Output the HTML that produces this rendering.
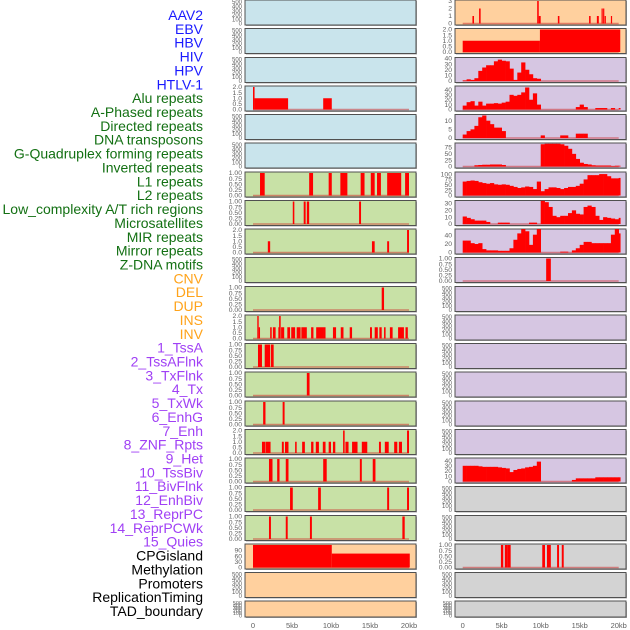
<!DOCTYPE html>
<html><head><meta charset="utf-8">
<style>
html,body{margin:0;padding:0;background:#fff;width:630px;height:630px;overflow:hidden}
svg{display:block;font-family:"Liberation Sans",sans-serif}
</style></head>
<body>
<svg id="chart" width="630" height="630" viewBox="0 0 630 630" xmlns="http://www.w3.org/2000/svg"></svg>
<script>
// ---- label data ----
const labelNames = ["AAV2","EBV","HBV","HIV","HPV","HTLV-1","Alu repeats","A-Phased repeats","Directed repeats","DNA transposons","G-Quadruplex forming repeats","Inverted repeats","L1 repeats","L2 repeats","Low_complexity A/T rich regions","Microsatellites","MIR repeats","Mirror repeats","Z-DNA motifs","CNV","DEL","DUP","INS","INV","1_TssA","2_TssAFlnk","3_TxFlnk","4_Tx","5_TxWk","6_EnhG","7_Enh","8_ZNF_Rpts","9_Het","10_TssBiv","11_BivFlnk","12_EnhBiv","13_ReprPC","14_ReprPCWk","15_Quies","CPGisland","Methylation","Promoters","ReplicationTiming","TAD_boundary"];
const labelGroups = [0,0,0,0,0,0,1,1,1,1,1,1,1,1,1,1,1,1,1,2,2,2,2,2,3,3,3,3,3,3,3,3,3,3,3,3,3,3,3,4,4,4,4,4];
const groupColors = ["#1a1aff","#137013","#ffa31a","#a040f5","#000000"];

// ---- x axis ----
const xTicks = [0,5,10,15,20];
const xTickLabels = ["0","5kb","10kb","15kb","20kb"];

// ---- y tick sets ----
const t01 = [0,0.25,0.5,0.75,1]; const t01L = ["0.00","0.25","0.50","0.75","1.00"];
const t02 = [0,0.5,1,1.5,2]; const t02L = ["0.0","0.5","1.0","1.5","2.0"];
const t500 = [0,100,200,300,400,500]; const t500L = ["0","100","200","300","400","500"];
const tR1 = [0,1,2,3];
const t40 = [0,10,20,30,40];
const tR5 = [0,5,10];
const tR6 = [0,25,50,75];
const tR7 = [0,25,50,75,100];
const tR8 = [0,10,20,30];
const tR9 = [0,20,40];
const tL20 = [0,30,60,90];

// ---- segment series [startKb, endKb, value] ----
const segL4 = [[0,0.2,2],[0.2,4.5,1],[9,10.1,1]];
const segL7 = [[0.9,1.5,1],[7.2,7.7,1],[9.7,10.1,1],[11.2,12.1,1],[13.8,14.3,1],[15.1,15.6,1],[15.9,16.4,1],[17.2,19,1],[19.5,20,1]];
const segL8 = [[5.1,5.3,1],[6.5,6.75,1],[6.9,7.2,1],[13.6,13.85,1]];
const segL9 = [[1.9,2.2,1],[15.25,15.6,1],[17.2,17.45,1],[19.75,20,2]];
const segL11 = [[16.5,16.8,1]];
const segL12 = [[0.55,0.73,2],[0.73,0.9,1],[2.2,2.4,1],[2.55,2.9,1],[3.25,3.35,1],[3.35,3.55,2],[3.6,4,1],[4.4,4.75,1],[4.9,5.4,1],[5.6,6.1,1],[6.2,6.9,1],[7.45,7.75,1],[8.1,9.1,1],[9.1,9.3,1],[10.25,10.65,1],[11.25,11.6,1],[12.4,12.7,1],[15,15.25,1],[15.6,16,1],[16.2,16.5,1],[16.8,17,1],[17.55,17.9,1],[18.6,19.35,1],[19.55,19.85,1]];
const segL13 = [[0.64,1.15,1],[1.5,2.2,1],[2.3,2.65,1]];
const segL14 = [[6.9,7.25,1]];
const segL15 = [[1.3,1.6,1],[3.8,4.05,1]];
const segL16 = [[1.15,1.55,1],[1.6,2.25,1],[3.7,3.95,1],[4.1,4.55,1],[5.4,5.6,1],[6.3,6.65,1],[7.45,7.75,1],[8.05,8.45,1],[8.95,9.3,1],[9.7,10,1],[10.25,10.55,1],[11.55,11.75,2],[11.85,12.25,1],[12.7,13.4,1],[13.95,14.65,1],[16.15,16.4,1],[16.9,17.4,1],[18.1,18.5,1],[18.7,19.1,1],[19.75,20,2]];
const segL17 = [[2.05,2.5,1],[3.1,3.4,1],[4.2,4.55,1],[9,9.45,1],[13.7,13.95,1],[15.35,15.7,1]];
const segL18 = [[4.75,5.1,1],[8.35,8.7,1],[17.2,17.45,1],[19.75,20,1]];
const segL19 = [[2.05,2.3,1],[4.2,4.45,1],[7.3,7.55,1],[19.15,19.45,1]];
const segL20 = [[0,10.1,118],[10.1,20.1,73]];
const segR1 = [[1.25,1.45,1],[2.1,2.3,2],[9.55,9.75,3],[9.75,10,1],[12.2,12.4,1],[16.2,16.4,1],[17.2,17.45,1],[17.8,17.95,2],[18,18.15,2],[18.2,18.35,1],[19,19.15,1]];
const segR2 = [[0,9.9,1],[9.9,20.2,2]];
const segR10 = [[10.7,11.3,1]];
const segR19 = [[4.9,5.2,1],[5.4,5.7,1],[5.7,6.15,1],[10.2,10.55,1],[10.8,11.3,1],[12.1,12.35,1],[12.7,12.95,1]];

// ---- binned series (0.5 kb bins from 0) ----
const binR3 = [1,3,2,5,18,24,28,28,35,38,36,35,22,2,15,33,20,12,5,4,0,0,0,0,0,0,0,0,0,0,0,0,0,0,0,0,0,0,0,0,0];
const binR4 = [8,15,17,8,16,8,12,12,13,12,14,16,30,28,30,35,45,20,33,10,0,0,0,0,0,0,0,0,0,5,10,5,0,0,3,3,3,0,3,0,3];
const binR5 = [2,4,5,7,12,13,10,8,6,6,4,0,0,0,0,0,0,0,0,0,1.5,0,0,0,0,1.5,1.5,0,0,2.5,2.5,2.5,0,0,0,0,0,0,0,0,0];
const binR6 = [0,0,0,5,6,7,7,8,8,8,6,0,0,0,0,0,0,0,0,0,88,90,90,90,90,88,82,70,50,30,15,10,8,5,4,4,4,4,2,3,3];
const binR7 = [65,68,70,68,62,58,55,58,52,50,52,50,45,40,35,38,42,40,30,65,20,30,38,38,35,30,35,40,40,45,55,75,95,95,95,100,100,90,80,80,82];
const binR8 = [11,9,7,5,5,5,3,0,0,2,2,2,0,0,0,0,0,2,2,0,34,32,25,12,10,12,12,16,20,15,14,25,27,25,12,6,10,9,8,7,9];
const binR9 = [28,28,22,20,22,8,5,5,5,4,4,4,10,30,45,55,50,18,42,55,0,0,0,0,0,2,2,0,5,10,18,25,25,22,22,22,22,22,42,55,45];
const binR16 = [30,30,30,30,29,28,28,28,28,27,26,25,18,22,24,25,27,28,30,38,0,0,0,0,0,0,0,0,3,6,6,6,6,6,8,8,8,8,8,8,8];

// ---- layout (not data) ----
const BLUE="#c9e4ec", GREEN="#c8e1a6", ORANGE="#ffd09e", PURPLE="#d6c6e2", GREY="#d3d3d3";
function P(col,row,bg,name,ymax,ticks,tickL,seg,bin){return {col,row,bg,name,ymax,ticks,tickL,seg,bin};}
const panels = [
 P(0,0,BLUE,"left-track-1",500,t500,t500L),
 P(0,1,BLUE,"left-track-2",500,t500,t500L),
 P(0,2,BLUE,"left-track-3",500,t500,t500L),
 P(0,3,BLUE,"left-track-4",2,t02,t02L,segL4),
 P(0,4,BLUE,"left-track-5",500,t500,t500L),
 P(0,5,BLUE,"left-track-6",500,t500,t500L),
 P(0,6,GREEN,"left-track-7",1,t01,t01L,segL7),
 P(0,7,GREEN,"left-track-8",1,t01,t01L,segL8),
 P(0,8,GREEN,"left-track-9",2,t02,t02L,segL9),
 P(0,9,GREEN,"left-track-10",500,t500,t500L),
 P(0,10,GREEN,"left-track-11",1,t01,t01L,segL11),
 P(0,11,GREEN,"left-track-12",2,t02,t02L,segL12),
 P(0,12,GREEN,"left-track-13",1,t01,t01L,segL13),
 P(0,13,GREEN,"left-track-14",1,t01,t01L,segL14),
 P(0,14,GREEN,"left-track-15",1,t01,t01L,segL15),
 P(0,15,GREEN,"left-track-16",2,t02,t02L,segL16),
 P(0,16,GREEN,"left-track-17",1,t01,t01L,segL17),
 P(0,17,GREEN,"left-track-18",1,t01,t01L,segL18),
 P(0,18,GREEN,"left-track-19",1,t01,t01L,segL19),
 P(0,19,ORANGE,"left-track-20",118,tL20,null,segL20),
 P(0,20,ORANGE,"left-track-21",500,t500,t500L),
 P(0,21,ORANGE,"left-track-22",500,t500,t500L),
 P(1,0,ORANGE,"right-track-1",3,tR1,null,segR1),
 P(1,1,ORANGE,"right-track-2",2,t02,t02L,segR2),
 P(1,2,PURPLE,"right-track-3",40,t40,null,null,binR3),
 P(1,3,PURPLE,"right-track-4",46,t40,null,null,binR4),
 P(1,4,PURPLE,"right-track-5",13,tR5,null,null,binR5),
 P(1,5,PURPLE,"right-track-6",89,tR6,null,null,binR6),
 P(1,6,PURPLE,"right-track-7",105,tR7,null,null,binR7),
 P(1,7,PURPLE,"right-track-8",33,tR8,null,null,binR8),
 P(1,8,PURPLE,"right-track-9",53,tR9,null,null,binR9),
 P(1,9,PURPLE,"right-track-10",1,t01,t01L,segR10),
 P(1,10,PURPLE,"right-track-11",500,t500,t500L),
 P(1,11,PURPLE,"right-track-12",500,t500,t500L),
 P(1,12,PURPLE,"right-track-13",500,t500,t500L),
 P(1,13,PURPLE,"right-track-14",500,t500,t500L),
 P(1,14,PURPLE,"right-track-15",500,t500,t500L),
 P(1,15,PURPLE,"right-track-16",500,t500,t500L),
 P(1,16,PURPLE,"right-track-17",43,t40,null,null,binR16),
 P(1,17,GREY,"right-track-18",500,t500,t500L),
 P(1,18,GREY,"right-track-19",500,t500,t500L),
 P(1,19,GREY,"right-track-20",1,t01,t01L,segR19),
 P(1,20,GREY,"right-track-21",500,t500,t500L),
 P(1,21,GREY,"right-track-22",500,t500,t500L)
];

const NS="http://www.w3.org/2000/svg";
const svg=document.getElementById("chart");
function mk(tag,attrs,parent){const e=document.createElementNS(NS,tag);for(const k in attrs)e.setAttribute(k,attrs[k]);(parent||svg).appendChild(e);return e;}

// labels
labelNames.forEach((t,i)=>{
  const e=mk("text",{x:203,y:(15+i*13.86+5).toFixed(1),"text-anchor":"end","font-size":"14",fill:groupColors[labelGroups[i]]});
  
  
  e.textContent=t;
});

const colX=[[245,416,253],[455,626,462.7]];
const KB=7.8;
function xScale(col,kb){return colX[col][2]+kb*KB;}

panels.forEach(p=>{
  const [x0,x1]=colX[p.col];
  const top=Math.round(p.row*28.63*2)/2;
  const H = p.row===21 ? 16 : 25;
  const y0 = top+H-1.5, yTop = top+1;
  const ys = v => y0 - v/p.ymax*(y0-yTop);
  const g=mk("g",{});
  
  
  mk("rect",{x:x0+1,y:top+1,width:x1-x0,height:H,fill:"#aaa"},g);
  const bg=mk("rect",{x:x0,y:top,width:x1-x0,height:H,fill:p.bg,stroke:"#505050","stroke-width":1},g);
  
  
  const clip="c"+p.col+"_"+p.row;
  const cp=mk("clipPath",{id:clip},g);
  mk("rect",{x:x0,y:top,width:x1-x0,height:H},cp);
  const pg=mk("g",{"clip-path":"url(#"+clip+")"},g);
  const fs = p.ticks===t500 ? (H<20?5.5:6) : 6.8;
  const ty0=y0, tyT=(p.ticks===t500)?top+2:yTop;
  p.ticks.forEach((v,i)=>{
    const maxT=p.ticks[p.ticks.length-1];
    const yy = p.ticks===t500 ? ty0-(v/maxT)*(ty0-tyT) : ys(v);
    const lab = p.tickL ? p.tickL[i] : String(v);
    const t=mk("text",{x:x0-3,y:(yy+2.2).toFixed(1),"text-anchor":"end","font-size":fs,fill:"#606060"},g);
    
    
    t.textContent=lab;
  });
  const hasData = p.seg||p.bin;
  if(hasData){
    const bl=mk("line",{x1:xScale(p.col,0),x2:xScale(p.col,20),y1:ys(0),y2:ys(0),stroke:"rgba(205,40,40,0.5)","stroke-width":1.6},pg);
    
    
  }
  if(p.seg){
    p.seg.forEach(s=>{
      const xa=xScale(p.col,s[0]), xb=xScale(p.col,s[1]);
      const r=mk("rect",{x:xa.toFixed(2),y:ys(s[2]).toFixed(2),width:Math.max(1.2,xb-xa).toFixed(2),height:(ys(0)-ys(s[2])).toFixed(2),fill:"#ff0000"},pg);
      
      
    });
  }
  if(p.bin){
    p.bin.forEach((v,i)=>{
      if(!v) return;
      const xa=xScale(p.col,i*0.5), xb=xScale(p.col,Math.min(i*0.5+0.5,20.2));
      const r=mk("rect",{x:xa.toFixed(2),y:ys(v).toFixed(2),width:(xb-xa+0.3).toFixed(2),height:(ys(0)-ys(v)).toFixed(2),fill:"#ff0000"},pg);
      
      
    });
  }
});

// x axes
[0,1].forEach(c=>{
  xTicks.forEach((v,i)=>{
    const t=mk("text",{x:xScale(c,v),y:628,"text-anchor":"middle","font-size":"7.5",fill:"#606060"});
    
    
    t.textContent=xTickLabels[i];
  });
});
</script>
</body></html>
